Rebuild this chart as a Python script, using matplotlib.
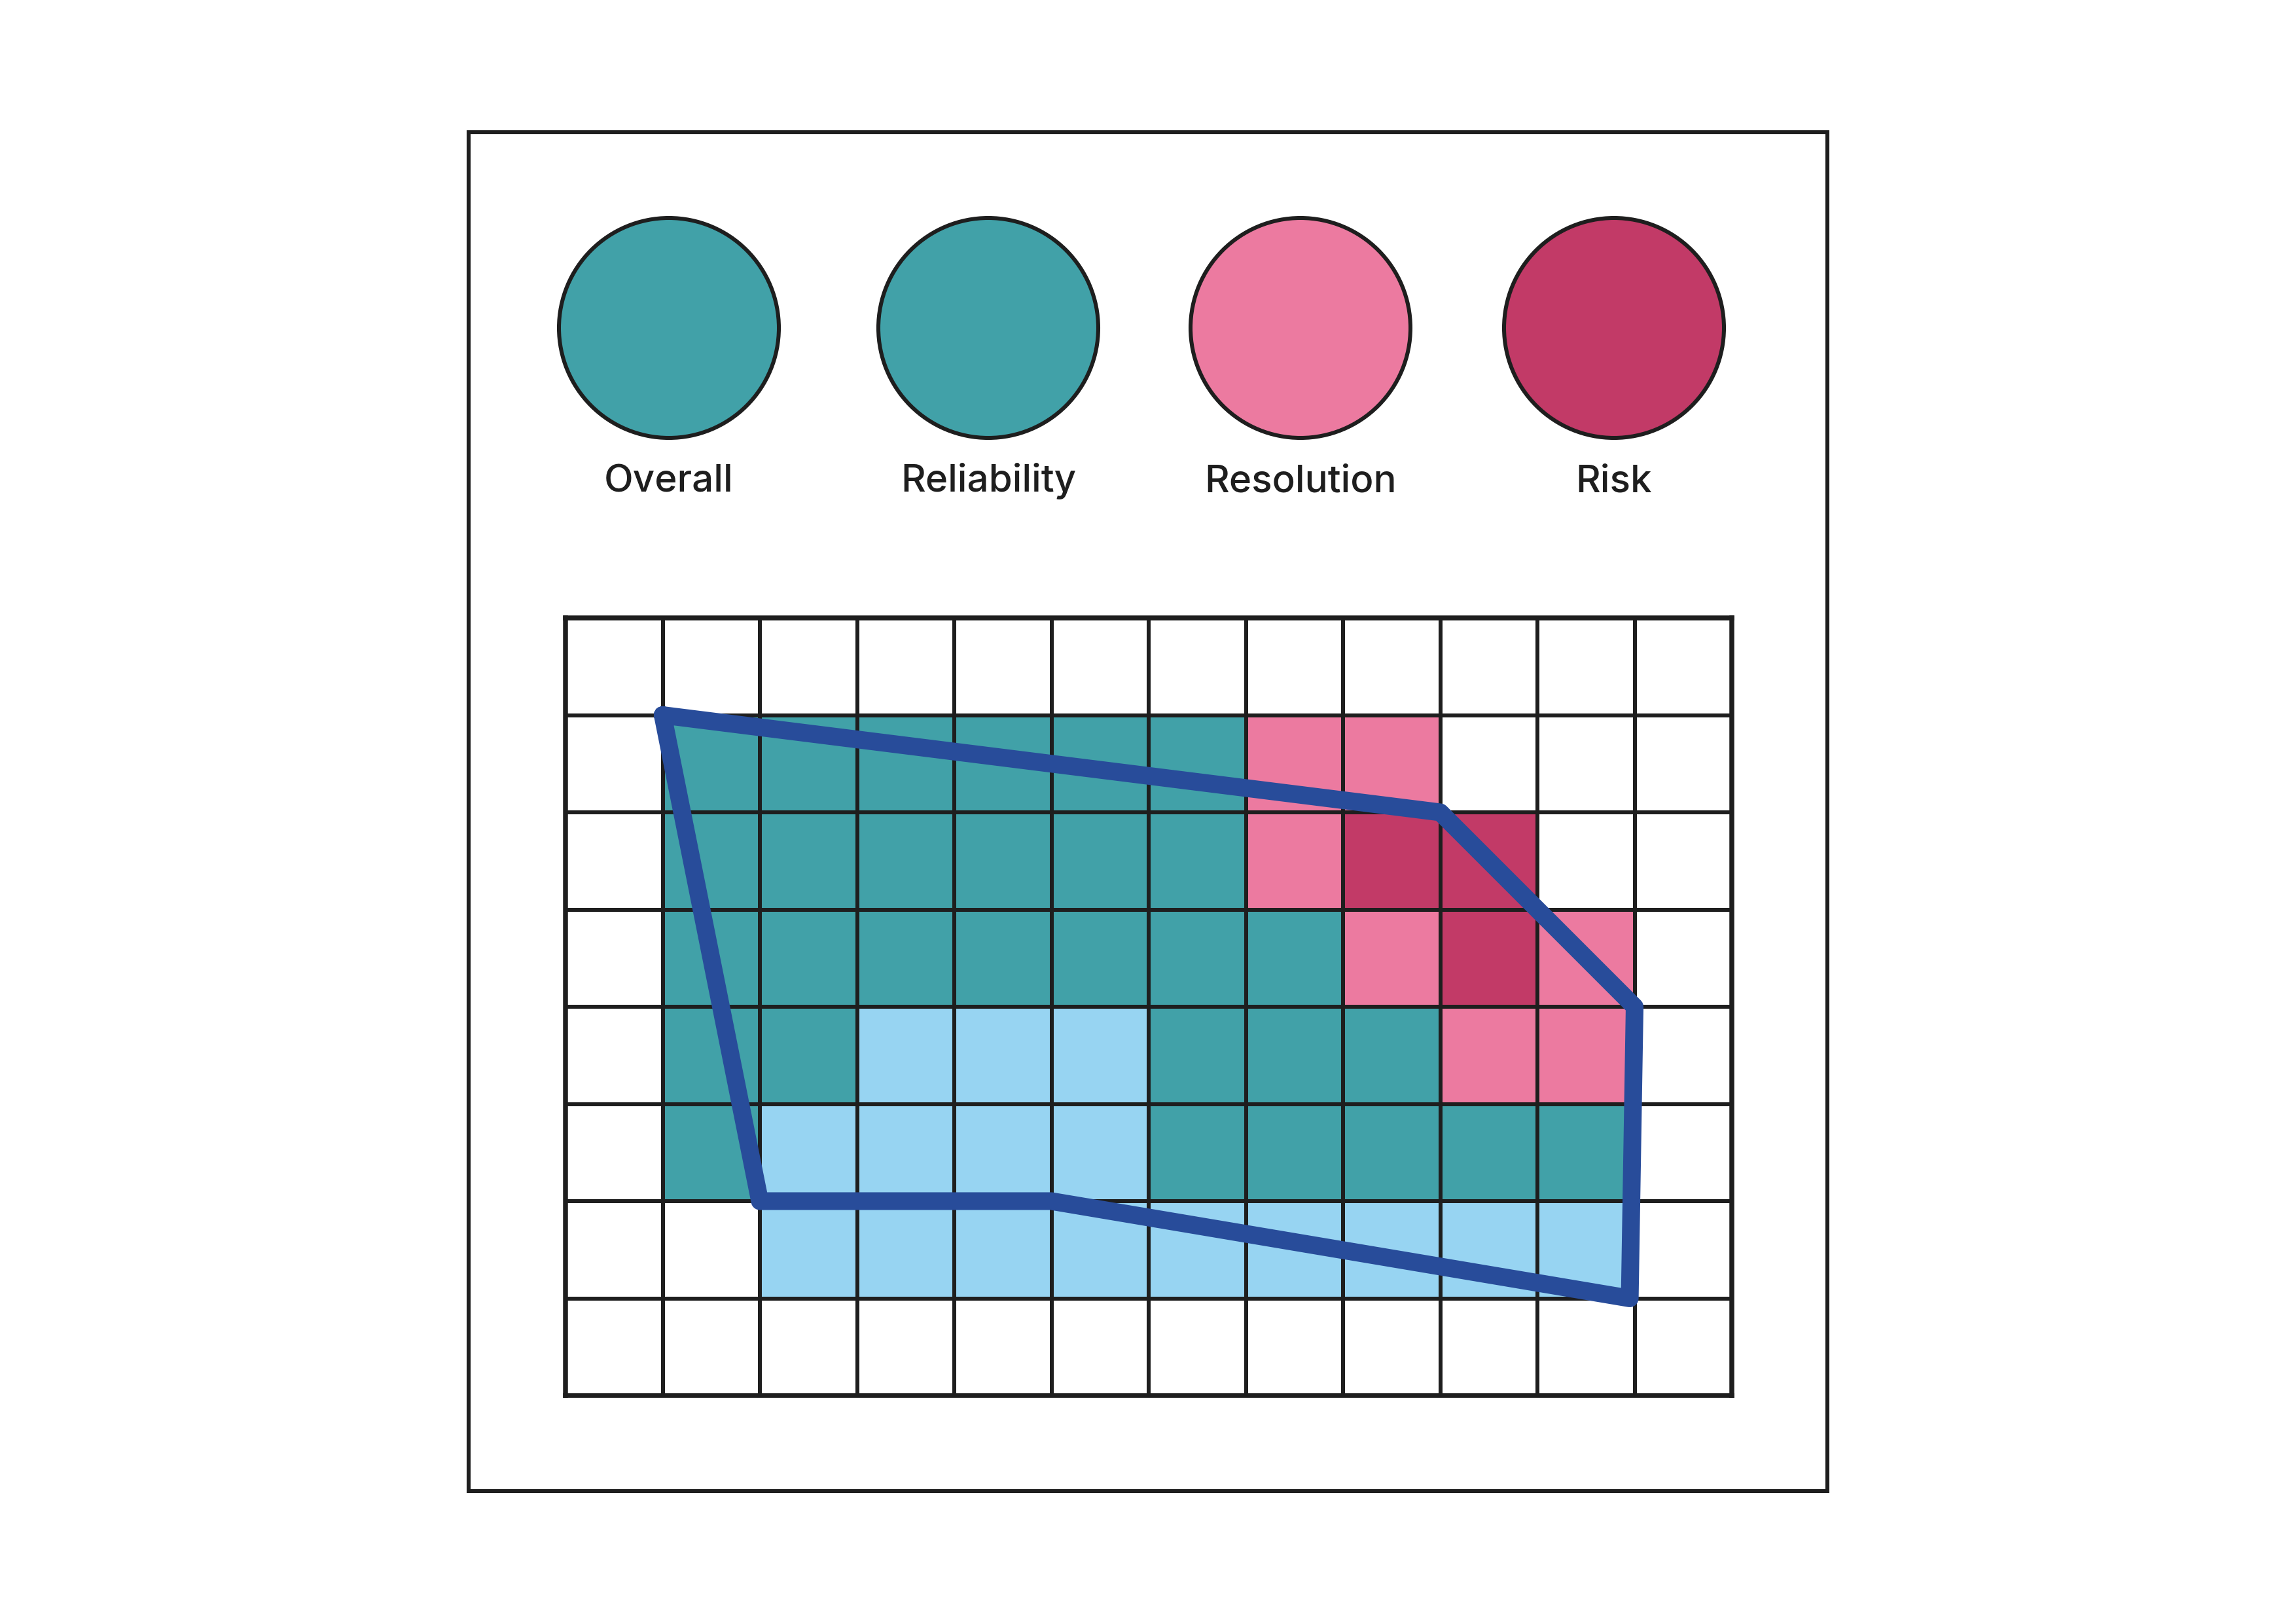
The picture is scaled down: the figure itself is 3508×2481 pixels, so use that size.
import matplotlib
matplotlib.use("Agg")
import matplotlib.pyplot as plt
import numpy as np
from matplotlib.colors import ListedColormap, BoundaryNorm
from matplotlib.patches import Rectangle, Circle

# ---- data ----
legend_labels = ["Overall", "Reliability", "Resolution", "Risk"]
legend_colors = ["#41A1A8", "#41A1A8", "#EC7AA0", "#C23A67"]

# cell categories: 0 empty, 1 teal, 2 light blue, 3 pink, 4 dark pink
cell_colors = ["#FFFFFF", "#41A1A8", "#97D4F2", "#EC7AA0", "#C23A67"]
grid_rows = [
    [0, 0, 0, 0, 0, 0, 0, 0, 0, 0, 0, 0],
    [0, 1, 1, 1, 1, 1, 1, 3, 3, 0, 0, 0],
    [0, 1, 1, 1, 1, 1, 1, 3, 4, 4, 0, 0],
    [0, 1, 1, 1, 1, 1, 1, 1, 3, 4, 3, 0],
    [0, 1, 1, 2, 2, 2, 1, 1, 1, 3, 3, 0],
    [0, 1, 2, 2, 2, 2, 1, 1, 1, 1, 1, 0],
    [0, 0, 2, 2, 2, 2, 2, 2, 2, 2, 2, 0],
    [0, 0, 0, 0, 0, 0, 0, 0, 0, 0, 0, 0],
]
poly_x = [1, 9, 11, 10.95, 5, 2]
poly_y = [1, 2, 4, 7, 6, 6]

W, H, DPI = 3508, 2481, 300
fig = plt.figure(figsize=(W / DPI, H / DPI), dpi=DPI)
fig.patch.set_facecolor("white")
LINE = "#1E1E1E"

# outer frame
fx0, fy0, fx1, fy1 = 716, 202, 2792, 2278
fig.patches.append(Rectangle((fx0 / W, 1 - fy1 / H), (fx1 - fx0) / W, (fy1 - fy0) / H,
                             transform=fig.transFigure, fill=False, edgecolor=LINE,
                             linewidth=1.45, zorder=0))

# legend circles (pixel-coordinate overlay axes)
lax = fig.add_axes([0, 0, 1, 1])
lax.set_xlim(0, W)
lax.set_ylim(H, 0)
lax.axis("off")
circle_x = [1022, 1510, 1987, 2466]
cy, r = 501, 168
for cx, lab, col in zip(circle_x, legend_labels, legend_colors):
    lax.add_patch(Circle((cx, cy), r, facecolor=col, edgecolor=LINE, linewidth=1.45))
    lax.text(cx, 751, lab, ha="center", va="baseline", fontsize=14,
             family=["Inter", "DejaVu Sans"], fontweight="medium", color=LINE)

# grid
gx0, gy0, cell = 864, 944, 148.5
nrows, ncols = len(grid_rows), len(grid_rows[0])
ax = fig.add_axes([gx0 / W, 1 - (gy0 + nrows * cell) / H, ncols * cell / W, nrows * cell / H])
data = np.array(grid_rows)
cmap = ListedColormap(cell_colors)
norm = BoundaryNorm(np.arange(-0.5, len(cell_colors) + 0.5, 1), cmap.N)
ax.pcolormesh(np.arange(ncols + 1), np.arange(nrows + 1), data, cmap=cmap, norm=norm,
              edgecolors=LINE, linewidth=1.4)
ax.set_xlim(0, ncols)
ax.set_ylim(nrows, 0)
ax.set_xticks([])
ax.set_yticks([])
for s in ax.spines.values():
    s.set_linewidth(1.8)
    s.set_color(LINE)

px = list(poly_x) + [poly_x[0]]
py = list(poly_y) + [poly_y[0]]
ax.plot(px, py, color="#284C9A", linewidth=6.5, solid_joinstyle="round",
        solid_capstyle="round", clip_on=False, zorder=5)

fig.savefig("out.png", dpi=DPI, facecolor="white")
